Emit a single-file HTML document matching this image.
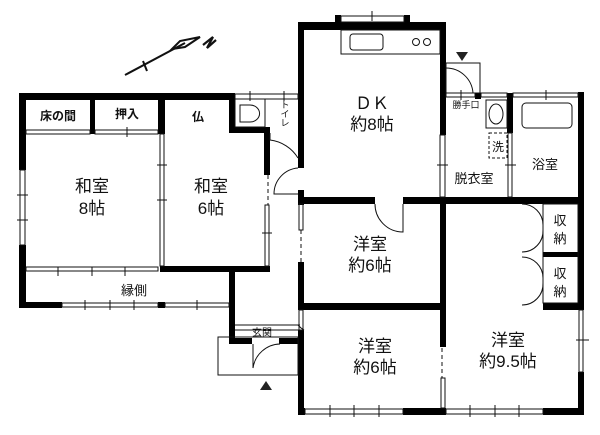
<!DOCTYPE html>
<html><head><meta charset="utf-8"><style>
body{margin:0;background:#fff}
svg{display:block}
text{font-family:"Liberation Sans","Noto Sans CJK JP",sans-serif;fill:#111;text-anchor:middle}
</style></head><body>
<svg width="600" height="435" viewBox="0 0 600 435" xmlns="http://www.w3.org/2000/svg">
<g fill="#000">
<rect x="19" y="93" width="211" height="7"/>
<rect x="19" y="93" width="7" height="77"/>
<rect x="19" y="245" width="7" height="63"/>
<rect x="90" y="93" width="5" height="41"/>
<rect x="158" y="93" width="7" height="41"/>
<rect x="229" y="93" width="6" height="40"/>
<rect x="229" y="127" width="40" height="6"/>
<rect x="264" y="127" width="6" height="48"/>
<rect x="160" y="266" width="110" height="6"/>
<rect x="19" y="302" width="43" height="6"/>
<rect x="158" y="302" width="7" height="6"/>
<rect x="229" y="272" width="6" height="72"/>
<rect x="229" y="338" width="23" height="6"/>
<rect x="279" y="338" width="21" height="6"/>
<rect x="298" y="22" width="148" height="8"/>
<rect x="335" y="15" width="6" height="8"/>
<rect x="404" y="15" width="6" height="8"/>
<rect x="298" y="22" width="6" height="146"/>
<rect x="298" y="190" width="6" height="15"/>
<rect x="298" y="262" width="6" height="45"/>
<rect x="298" y="330" width="6" height="85"/>
<rect x="440" y="22" width="6" height="113"/>
<rect x="475" y="93" width="6" height="6"/>
<rect x="507" y="93" width="6" height="40"/>
<rect x="578" y="92" width="6" height="218"/>
<rect x="578" y="372" width="6" height="43"/>
<rect x="298" y="197" width="77" height="7"/>
<rect x="403" y="197" width="181" height="7"/>
<rect x="440" y="197" width="6" height="150"/>
<rect x="298" y="303" width="148" height="7"/>
<rect x="543" y="252" width="41" height="5"/>
<rect x="543" y="303" width="41" height="7"/>
<rect x="298" y="408" width="7" height="7"/>
<rect x="403" y="408" width="43" height="7"/>
<rect x="543" y="408" width="41" height="7"/>
</g>
<g fill="none" stroke="#111" stroke-width="1">
<rect x="20" y="170" width="5" height="75"/>
<rect x="26" y="130" width="64" height="4"/><rect x="95" y="130" width="63" height="4"/>
<rect x="160" y="134" width="4" height="132"/>
<rect x="26" y="267" width="132" height="4"/>
<rect x="62" y="303" width="96" height="4"/><rect x="165" y="303" width="64" height="4"/>
<rect x="235" y="94" width="63" height="5"/>
<rect x="265" y="205" width="4" height="61"/>
<rect x="341" y="16" width="63" height="6"/>
<rect x="440" y="135" width="5" height="62"/>
<rect x="446" y="93" width="29" height="4"/>
<rect x="481" y="93" width="26" height="4"/>
<rect x="513" y="93" width="65" height="4"/>
<rect x="508" y="133" width="4" height="64"/>
<rect x="299" y="204" width="4" height="26"/>
<rect x="299" y="310" width="4" height="20"/>
<rect x="579" y="310" width="4" height="62"/>
<rect x="305" y="409" width="98" height="5"/>
<rect x="446" y="409" width="97" height="5"/>
<rect x="441" y="378" width="4" height="30"/>
<rect x="543" y="204" width="35" height="99"/>
<rect x="235" y="99" width="30" height="28"/>
<path d="M240 105 H250 A9 8 0 0 1 250 122 H240 Z"/>
<rect x="341" y="30" width="99" height="24"/>
<rect x="350" y="34" width="33" height="16" rx="3"/>
<circle cx="416" cy="42" r="3.5"/><circle cx="427" cy="42" r="3.5"/>
<rect x="486" y="100" width="21" height="28"/>
<ellipse cx="496" cy="114" rx="7" ry="10"/>
<rect x="522" y="103" width="50" height="25" rx="4"/>
<rect x="489" y="133" width="18" height="25" stroke-dasharray="3,2"/>
<rect x="446" y="63" width="34" height="30"/>
<path d="M446 68 A27 27 0 0 1 473 93"/>
<rect x="218" y="337" width="80" height="38"/>
<path d="M253 344 V368 A28 28 0 0 1 280 344"/>
<path d="M235 325 H300 M235 330 H300"/>
<path d="M270 133 V140 A38 38 0 0 1 298 158"/>
<path d="M298 168 A26 26 0 0 0 274 194 H298"/>
<path d="M375 204 A28 28 0 0 0 403 232 V204"/>
<path d="M522 204 A21 21 0 0 1 543 225 M522 252 A21 21 0 0 0 543 230"/>
<path d="M522 257 A21 21 0 0 1 543 278 M522 305 A21 21 0 0 0 543 283"/>
<path d="M304 330 A20 20 0 0 1 298 325"/>
<path d="M301 230 V262 M442 348 V378 M268 175 V205" stroke-dasharray="4,3"/>
<path d="M125 75 L185 43" stroke-width="2"/>
<path d="M172 49 L180 41 L200 37 L185 47 Z" stroke-width="2"/>
<path d="M143 61 L147 71" stroke-width="2"/>
<path d="M203 45 L213 37 L207 48 L216 40" stroke-width="2.2"/>
<path d="M127 127 V137 M250 91 V101 M284 91 V101 M372 11 V21 M461 90 V100 M546 90 V100 M17 195 H28 M17 220 H28 M157 165 H167 M157 200 H167 M262 233 H272 M437 165 H448 M505 165 H516 M58 267 V276 M92 267 V276 M125 267 V276 M85 300 V310 M110 300 V310 M134 300 V310 M197 300 V310 M576 340 H589 M330 405 V417 M354 405 V417 M379 405 V417 M470 405 V417 M495 405 V417 M519 405 V417"/>
</g>
<path d="M456 52 H468 L462 61 Z" fill="#222"/>
<path d="M260 390 H272 L266 381 Z" fill="#222"/>
<g font-size="17">
<text x="92" y="192">和室</text><text x="92" y="214">8帖</text>
<text x="211" y="192">和室</text><text x="211" y="214">6帖</text>
<text x="372" y="109">ＤＫ</text><text x="372" y="130">約8帖</text>
<text x="370" y="250">洋室</text><text x="370" y="271">約6帖</text>
<text x="375" y="352">洋室</text><text x="375" y="373">約6帖</text>
<text x="508" y="346">洋室</text><text x="508" y="367">約9.5帖</text>
</g>
<g font-size="13">
<text x="545" y="169">浴室</text><text x="474" y="183">脱衣室</text>
<text x="134" y="295">縁側</text>
<text x="560" y="225">収</text><text x="560" y="243">納</text>
<text x="560" y="278">収</text><text x="560" y="296">納</text>
<text x="498" y="151" font-size="12">洗</text>
</g>
<g font-size="12" font-weight="bold">
<text x="58" y="120">床の間</text><text x="127" y="118">押入</text><text x="198" y="121">仏</text>
</g>
<text x="466" y="108" font-size="9">勝手口</text>
<text x="262" y="336" font-size="10">玄関</text>
<g font-size="9"><text x="285" y="108">ト</text><text x="285" y="117">イ</text><text x="285" y="126">レ</text></g>
</svg>
</body></html>
